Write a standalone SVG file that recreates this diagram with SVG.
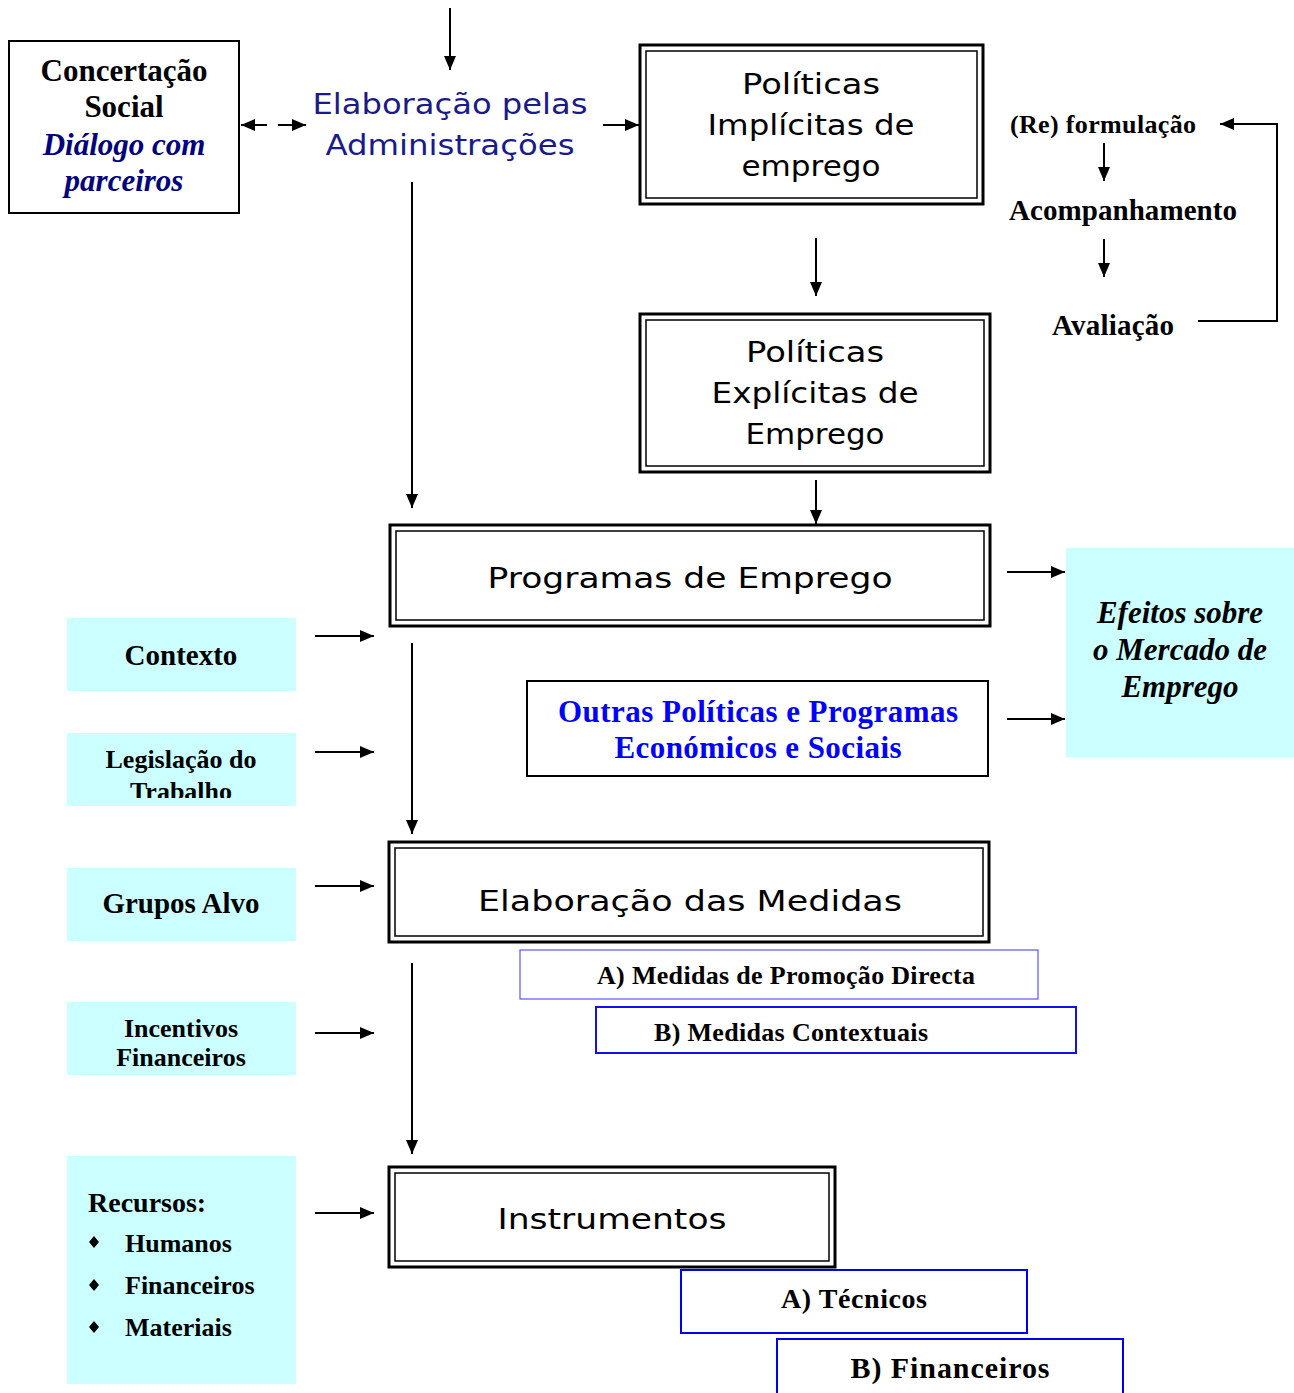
<svg xmlns="http://www.w3.org/2000/svg" width="1294" height="1393" viewBox="0 0 1294 1393">
<style>
.outer{fill:#fff;stroke:#000;stroke-width:3}
.inner{fill:none;stroke:#000;stroke-width:1.5}
.cyan{fill:#ccffff;stroke:none}
.sans{font-family:"DejaVu Sans","Liberation Sans",sans-serif;font-size:28px;fill:#000;text-anchor:middle}
.blueSans{fill:#1a1a8c}
.serifB{font-family:"Liberation Serif","Times New Roman",serif;font-weight:bold;fill:#000;text-anchor:middle}
.serifBI{font-family:"Liberation Serif","Times New Roman",serif;font-weight:bold;font-style:italic;text-anchor:middle}
.conn{stroke:#000;stroke-width:2;fill:none}
.arr{marker-end:url(#ah)}
</style>
<defs>
<marker id="ah" markerUnits="userSpaceOnUse" markerWidth="14" markerHeight="12" refX="14" refY="6" orient="auto-start-reverse">
<path d="M0,0 L14,6 L0,12 z" fill="#000"/>
</marker>
<clipPath id="clipLeg"><rect x="67" y="733" width="229" height="65"/></clipPath>
</defs>
<rect width="1294" height="1393" fill="#fff"/>

<g id="concertacao">
<rect x="9" y="41" width="230" height="172" fill="#fff" stroke="#000" stroke-width="2"/>
<text class="serifB" x="124" y="81" font-size="31">Concertação</text>
<text class="serifB" x="124" y="117" font-size="31">Social</text>
<text class="serifBI" x="124" y="155" font-size="31" fill="#000080">Diálogo com</text>
<text class="serifBI" x="124" y="191" font-size="31" fill="#000080">parceiros</text>
</g>

<g id="elaboracao-admin">
<text class="sans blueSans" x="450" y="114" textLength="275" lengthAdjust="spacingAndGlyphs">Elaboração pelas</text>
<text class="sans blueSans" x="450" y="155" textLength="249" lengthAdjust="spacingAndGlyphs">Administrações</text>
</g>

<g id="politicas-implicitas">
<rect class="outer" x="640" y="45" width="343" height="159"/>
<rect class="inner" x="646" y="51" width="331" height="147"/>
<text class="sans" x="811" y="94" textLength="138" lengthAdjust="spacingAndGlyphs">Políticas</text>
<text class="sans" x="811" y="135" textLength="207" lengthAdjust="spacingAndGlyphs">Implícitas de</text>
<text class="sans" x="811" y="176" textLength="139" lengthAdjust="spacingAndGlyphs">emprego</text>
</g>

<g id="politicas-explicitas">
<rect class="outer" x="640" y="314" width="350" height="158"/>
<rect class="inner" x="646" y="320" width="338" height="146"/>
<text class="sans" x="815" y="362" textLength="138" lengthAdjust="spacingAndGlyphs">Políticas</text>
<text class="sans" x="815" y="403" textLength="207" lengthAdjust="spacingAndGlyphs">Explícitas de</text>
<text class="sans" x="815" y="444" textLength="139" lengthAdjust="spacingAndGlyphs">Emprego</text>
</g>

<g id="ciclo">
<text class="serifB" x="1103" y="133" font-size="26" textLength="186">(Re) formulação</text>
<text class="serifB" x="1123" y="220" font-size="29" textLength="228">Acompanhamento</text>
<text class="serifB" x="1113" y="335" font-size="29" textLength="122">Avaliação</text>
</g>

<g id="programas">
<rect class="outer" x="390" y="525" width="600" height="101"/>
<rect class="inner" x="396" y="531" width="588" height="89"/>
<text class="sans" x="690" y="588" textLength="405" lengthAdjust="spacingAndGlyphs">Programas de Emprego</text>
</g>

<g id="efeitos">
<rect class="cyan" x="1066" y="548" width="228" height="209"/>
<text class="serifBI" x="1180" y="623" font-size="31" fill="#000">Efeitos sobre</text>
<text class="serifBI" x="1180" y="660" font-size="31" fill="#000">o Mercado de</text>
<text class="serifBI" x="1180" y="697" font-size="31" fill="#000">Emprego</text>
</g>

<g id="outras">
<rect x="527" y="681" width="461" height="95" fill="#fff" stroke="#000" stroke-width="2"/>
<text class="serifB" x="758" y="722" font-size="31" textLength="400" style="fill:#0000ff">Outras Políticas e Programas</text>
<text class="serifB" x="758" y="758" font-size="31" textLength="287" style="fill:#0000ff">Económicos e Sociais</text>
</g>

<g id="contexto">
<rect class="cyan" x="67" y="618" width="229" height="73"/>
<text class="serifB" x="181" y="665" font-size="29">Contexto</text>
</g>

<g id="legislacao">
<rect class="cyan" x="67" y="733" width="229" height="73"/>
<g clip-path="url(#clipLeg)">
<text class="serifB" x="181" y="768" font-size="26">Legislação do</text>
<text class="serifB" x="181" y="800" font-size="26">Trabalho</text>
</g>
</g>

<g id="grupos">
<rect class="cyan" x="67" y="868" width="229" height="73"/>
<text class="serifB" x="181" y="913" font-size="29">Grupos Alvo</text>
</g>

<g id="incentivos">
<rect class="cyan" x="67" y="1002" width="229" height="73"/>
<text class="serifB" x="181" y="1037" font-size="26">Incentivos</text>
<text class="serifB" x="181" y="1066" font-size="26">Financeiros</text>
</g>

<g id="recursos">
<rect class="cyan" x="67" y="1156" width="229" height="228"/>
<text class="serifB" x="88" y="1212" font-size="28" style="text-anchor:start">Recursos:</text>
<path d="M94,1236 L99,1242 L94,1248 L89,1242 z M94,1279 L99,1285 L94,1291 L89,1285 z M94,1321 L99,1327 L94,1333 L89,1327 z" fill="#000"/>
<text class="serifB" x="125" y="1252" font-size="26" style="text-anchor:start">Humanos</text>
<text class="serifB" x="125" y="1294" font-size="26" style="text-anchor:start">Financeiros</text>
<text class="serifB" x="125" y="1336" font-size="26" style="text-anchor:start">Materiais</text>
</g>

<g id="elaboracao-medidas">
<rect class="outer" x="389" y="842" width="600" height="100"/>
<rect class="inner" x="395" y="848" width="588" height="88"/>
<text class="sans" x="690" y="911" textLength="424" lengthAdjust="spacingAndGlyphs">Elaboração das Medidas</text>
</g>

<g id="medidas-a">
<rect x="520" y="950" width="518" height="49" fill="#fff" stroke="#5555ff" stroke-width="1.2"/>
<text class="serifB" x="786" y="984" font-size="26" textLength="378">A) Medidas de Promoção Directa</text>
</g>

<g id="medidas-b">
<rect x="596" y="1007" width="480" height="46" fill="#fff" stroke="#1010ee" stroke-width="2"/>
<text class="serifB" x="791" y="1041" font-size="26" textLength="274">B) Medidas Contextuais</text>
</g>

<g id="instrumentos">
<rect class="outer" x="389" y="1167" width="446" height="100"/>
<rect class="inner" x="395" y="1173" width="434" height="88"/>
<text class="sans" x="612" y="1229" textLength="229" lengthAdjust="spacingAndGlyphs">Instrumentos</text>
</g>

<g id="tecnicos">
<rect x="681" y="1270" width="346" height="63" fill="#fff" stroke="#0000ee" stroke-width="2"/>
<text class="serifB" x="854" y="1308" font-size="28" textLength="146">A) Técnicos</text>
</g>

<g id="financeiros">
<rect x="777" y="1339" width="346" height="60" fill="#fff" stroke="#0000ee" stroke-width="2"/>
<text class="serifB" x="950" y="1378" font-size="30" textLength="199">B) Financeiros</text>
</g>

<g id="connectors">
<line class="conn" x1="241" y1="125" x2="267" y2="125" style="marker-start:url(#ah)"/>
<line class="conn arr" x1="278" y1="125" x2="306" y2="125"/>
<line class="conn arr" x1="450" y1="8" x2="450" y2="70"/>
<line class="conn arr" x1="603" y1="125" x2="639" y2="125"/>
<line class="conn arr" x1="412" y1="182" x2="412" y2="508"/>
<line class="conn arr" x1="816" y1="238" x2="816" y2="296"/>
<line class="conn arr" x1="816" y1="480" x2="816" y2="524"/>
<line class="conn arr" x1="1104" y1="143" x2="1104" y2="181"/>
<line class="conn arr" x1="1104" y1="239" x2="1104" y2="277"/>
<polyline class="conn arr" points="1198,321 1277,321 1277,124 1220,124"/>
<line class="conn arr" x1="1007" y1="572" x2="1065" y2="572"/>
<line class="conn arr" x1="1007" y1="719" x2="1065" y2="719"/>
<line class="conn arr" x1="315" y1="636" x2="374" y2="636"/>
<line class="conn arr" x1="315" y1="752" x2="374" y2="752"/>
<line class="conn arr" x1="315" y1="886" x2="374" y2="886"/>
<line class="conn arr" x1="315" y1="1033" x2="374" y2="1033"/>
<line class="conn arr" x1="315" y1="1213" x2="374" y2="1213"/>
<line class="conn arr" x1="412" y1="643" x2="412" y2="834"/>
<line class="conn arr" x1="412" y1="963" x2="412" y2="1154"/>
</g>
</svg>
